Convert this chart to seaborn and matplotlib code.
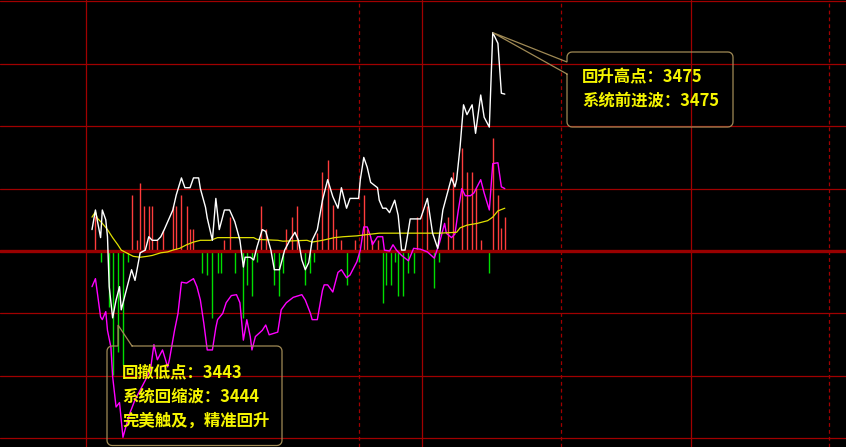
import numpy as np
import matplotlib
matplotlib.use("Agg")
import matplotlib.pyplot as plt
import seaborn as sns

# minute of the session (0..240) and values
white_min = [0, 2, 3, 5, 6, 8, 9, 10, 12, 14,
             16, 17, 21, 23, 25, 28, 31, 33, 35, 38,
             40, 42, 47, 49, 52, 54, 57, 59, 62, 63,
             66, 67, 70, 72, 74, 77, 80, 83, 86, 88,
             89, 92, 94, 96, 99, 101, 104, 106, 109, 112,
             115, 118, 120, 122, 124, 126, 128, 131, 134, 137,
             140, 143, 145, 148, 150, 155, 156, 158, 160, 162,
             166, 167, 169, 171, 173, 176, 178, 180, 182, 183,
             185, 191, 195, 198, 201, 204, 209, 211, 212, 214,
             216, 218, 221, 223, 226, 228, 231, 233, 236, 238,
             240]
white_price = [3452.9, 3455.1, 3454.0, 3452.0, 3455.1, 3454.0, 3452.1, 3446.5, 3443.0, 3445.0,
               3446.5, 3443.9, 3446.9, 3448.4, 3447.2, 3450.3, 3450.6, 3452.1, 3451.7, 3451.7,
               3452.1, 3452.9, 3455.1, 3456.8, 3458.7, 3457.6, 3457.6, 3458.7, 3458.7, 3457.5,
               3455.4, 3454.2, 3451.7, 3456.4, 3452.9, 3455.1, 3455.1, 3453.8, 3451.7, 3448.7,
               3449.8, 3449.8, 3449.5, 3451.0, 3452.9, 3452.7, 3450.6, 3448.4, 3448.4, 3450.6,
               3451.7, 3452.6, 3451.7, 3449.5, 3448.4, 3449.2, 3451.7, 3452.9, 3456.2, 3458.5,
               3456.6, 3455.3, 3457.6, 3455.3, 3456.4, 3456.4, 3458.5, 3461.0, 3459.9, 3458.2,
               3457.6, 3456.2, 3455.3, 3455.3, 3454.8, 3456.2, 3454.5, 3450.6, 3450.6, 3451.7,
               3454.1, 3454.1, 3456.4, 3452.5, 3450.8, 3455.1, 3458.7, 3457.7, 3458.5, 3462.2,
               3466.9, 3465.8, 3466.9, 3463.7, 3468.0, 3465.5, 3464.4, 3475.0, 3473.8, 3468.2,
               3468.1]

avg_min = [0, 2, 3, 6, 9, 12, 15, 17, 20, 24,
           28, 32, 35, 40, 44, 47, 51, 55, 59, 63,
           69, 73, 94, 96, 108, 111, 125, 128, 134, 141,
           146, 154, 158, 167, 202, 212, 214, 218, 224, 230,
           233, 236, 240]
avg_price = [3454.3, 3454.9, 3454.2, 3453.6, 3452.9, 3452.0, 3451.2, 3450.6, 3450.3, 3449.9,
             3449.8, 3449.9, 3450.0, 3450.3, 3450.4, 3450.6, 3450.8, 3451.2, 3451.5, 3451.7,
             3451.7, 3452.0, 3452.0, 3451.8, 3451.7, 3451.6, 3451.7, 3451.5, 3451.7, 3452.0,
             3452.1, 3452.2, 3452.3, 3452.5, 3452.5, 3452.6, 3453.1, 3453.4, 3453.6, 3453.9,
             3454.3, 3455.0, 3455.3]

wave_min = [0, 2, 5, 6, 8, 9, 11, 12, 14, 16,
            18, 20, 22, 25, 28, 31, 34, 36, 38, 41,
            44, 45, 48, 50, 52, 55, 59, 61, 63, 65,
            67, 70, 72, 73, 76, 78, 81, 84, 86, 88,
            89, 90, 92, 93, 95, 99, 101, 103, 108, 110,
            113, 117, 122, 124, 127, 128, 131, 134, 135, 137,
            140, 143, 145, 148, 150, 154, 156, 158, 160, 162,
            163, 166, 169, 170, 173, 175, 177, 180, 184, 187,
            191, 195, 199, 202, 205, 206, 209, 211, 213, 215,
            217, 220, 222, 226, 228, 231, 233, 236, 238, 240]
wave_val = [3446.5, 3447.4, 3443.1, 3442.8, 3443.7, 3441.6, 3439.7, 3436.4, 3433.0, 3433.5,
            3429.6, 3431.0, 3432.3, 3433.8, 3434.9, 3436.0, 3437.2, 3440.0, 3438.3, 3439.4,
            3437.5, 3438.3, 3441.6, 3443.5, 3447.0, 3446.9, 3447.4, 3446.5, 3445.0, 3442.4,
            3439.4, 3439.4, 3441.9, 3442.8, 3443.5, 3444.7, 3445.5, 3445.6, 3444.7, 3440.5,
            3441.6, 3442.8, 3440.9, 3439.4, 3440.9, 3441.6, 3442.2, 3441.1, 3441.4, 3443.9,
            3444.7, 3445.3, 3445.6, 3445.0, 3443.5, 3442.8, 3442.8, 3446.1, 3446.7, 3446.7,
            3445.9, 3448.1, 3448.4, 3447.5, 3447.8, 3449.3, 3450.6, 3453.2, 3453.2, 3452.1,
            3451.2, 3452.1, 3452.1, 3450.6, 3450.5, 3451.2, 3450.6, 3450.0, 3449.4, 3450.8,
            3450.7, 3450.4, 3449.7, 3451.4, 3453.6, 3452.5, 3452.0, 3452.4, 3455.1, 3457.5,
            3456.7, 3456.7, 3457.0, 3458.5, 3457.0, 3455.1, 3460.3, 3460.4, 3457.7, 3457.5]

up_min = [2, 23, 26, 28, 30, 33, 35, 38, 41, 47,
          49, 52, 55, 57, 59, 77, 80, 98, 101, 113,
          116, 119, 131, 134, 137, 140, 142, 145, 153, 158,
          160, 163, 166, 189, 195, 207, 210, 215, 218, 221,
          223, 226, 233, 236, 238, 240]
up_val = [3.9, 6.3, 1.2, 7.6, 5.0, 5.0, 5.0, 1.2, 2.4, 5.0,
          5.0, 6.3, 5.0, 2.5, 2.5, 1.2, 3.8, 5.0, 2.5, 2.5,
          3.8, 5.0, 2.0, 8.9, 10.2, 5.2, 2.5, 1.2, 1.2, 6.3,
          2.5, 1.2, 1.2, 3.8, 5.0, 3.8, 8.9, 11.6, 8.9, 8.9,
          7.1, 1.2, 12.7, 6.3, 2.6, 3.8]

down_min = [5, 10, 12, 15, 18, 21, 64, 67, 70, 73,
            75, 83, 88, 90, 93, 96, 106, 109, 111, 124,
            127, 129, 148, 155, 169, 171, 174, 176, 178, 181,
            184, 187, 199, 202, 231]
down_val = [-1.2, -6.3, -13.9, -11.3, -12.8, -1.2, -2.5, -2.7, -7.5, -2.5,
            -2.5, -2.5, -7.5, -3.8, -5.0, -1.2, -3.8, -5.0, -2.5, -3.8,
            -2.5, -1.2, -3.8, -1.2, -5.8, -3.8, -3.8, -1.2, -5.0, -5.0,
            -2.5, -2.5, -4.2, -1.2, -2.5]

high_text = ["回升高点：3475", "系统前进波：3475"]
low_text = ["回撤低点：3443", "系统回缩波：3444", "完美触及，精准回升"]

BASE = 3450.5      # previous close
STEP = 7.0         # grid step in points

W, H = 846, 447
X0_PX, PX_PER_MIN = 92, 1.72
BASE_PX, PX_PER_PT = 251, 62.4 / 7

GRID = "#a00000"
BOX = "#a08a55"
TXT = "#f5f500"

sns.set_theme(style="dark", rc={"axes.facecolor": "black", "figure.facecolor": "black"})
plt.rcParams["font.family"] = ["Noto Sans CJK SC", "DejaVu Sans"]

fig = plt.figure(figsize=(W / 100, H / 100), dpi=100)
ax = fig.add_axes([0, 0, 1, 1])
ax.set_xlim((0 - X0_PX) / PX_PER_MIN, (W - X0_PX) / PX_PER_MIN)
ax.set_ylim(BASE - (H - BASE_PX) / PX_PER_PT, BASE + BASE_PX / PX_PER_PT)
ax.set_xticks([])
ax.set_yticks([])
ax.grid(False)
for s in ax.spines.values():
    s.set_visible(False)

# grid
for k in [-3, -2, -1, 1, 2, 3, 4]:
    ax.axhline(BASE + k * STEP, color=GRID, lw=0.9, zorder=1)
for xm in [-3.5, 191.9, 348.3]:
    ax.axvline(xm, color=GRID, lw=0.9, zorder=1)
for xm in [155.2, 272.7, 428.5]:
    ax.axvline(xm, color=GRID, lw=0.9, ls=(0, (3, 2.5)), zorder=1)

# bars around the previous close
ax.vlines(up_min, BASE, BASE + np.array(up_val), colors="#ff3c3c", lw=1.0, zorder=2)
ax.vlines(down_min, BASE, BASE + np.array(down_val), colors="#00dd00", lw=1.0, zorder=2)
ax.axhline(BASE, color="#990000", lw=2.4, zorder=3)

sns.lineplot(x=wave_min, y=wave_val, color="#ff00ff", lw=1.0, ax=ax, zorder=4)
sns.lineplot(x=avg_min, y=avg_price, color="#e0e000", lw=0.9, ax=ax, zorder=4)
sns.lineplot(x=white_min, y=white_price, color="white", lw=1.0, ax=ax, zorder=5)


def to_ax(px, py):
    return px / W, 1 - py / H


def arc(cx, cy, r, a0, a1):
    t = np.radians(np.linspace(a0, a1, 6))
    return [(cx + r * np.cos(t_), cy - r * np.sin(t_)) for t_ in t]


def callout(x0, y0, x1, y1, tip, gap, side, r=5):
    # outline in pixel coords (y down), open where the pointer leaves
    if side == "left":
        pts = [(x0, gap[1]), (x0, y1 - r)]
        pts += arc(x0 + r, y1 - r, r, 180, 270)
        pts += [(x1 - r, y1)] + arc(x1 - r, y1 - r, r, 270, 360)
        pts += [(x1, y0 + r)] + arc(x1 - r, y0 + r, r, 0, 90)
        pts += [(x0 + r, y0)] + arc(x0 + r, y0 + r, r, 90, 180)
        pts += [(x0, gap[0]), tip, (x0, gap[1])]
    else:
        pts = [(gap[1], y0), (x1 - r, y0)]
        pts += arc(x1 - r, y0 + r, r, 90, 0)
        pts += [(x1, y1 - r)] + arc(x1 - r, y1 - r, r, 0, -90)
        pts += [(x0 + r, y1)] + arc(x0 + r, y1 - r, r, 270, 180)
        pts += [(x0, y0 + r)] + arc(x0 + r, y0 + r, r, 180, 90)
        pts += [(gap[0], y0), tip, (gap[1], y0)]
    xy = np.array([to_ax(*p) for p in pts])
    ax.plot(xy[:, 0], xy[:, 1], color=BOX, lw=0.9, transform=ax.transAxes, zorder=6,
            solid_joinstyle="miter")


# pointer to the session high
peak = ax.transData.transform((white_min[white_price.index(max(white_price))], max(white_price)))
peak = ax.transAxes.inverted().transform(peak)
peak_px = (peak[0] * W, (1 - peak[1]) * H)
callout(567, 52, 733, 127, peak_px, (62, 74), "left")
callout(107, 346, 282, 445.5, (118, 325), (118, 132), "top")

for i, t in enumerate(high_text):
    ax.text(*to_ax(582, 77 + 24 * i), t, color=TXT, fontsize=11.8, fontweight="bold",
            va="center", ha="left", transform=ax.transAxes, zorder=7)
for i, t in enumerate(low_text):
    ax.text(*to_ax(122, 372 + 24.5 * i), t, color=TXT, fontsize=11.8, fontweight="bold",
            va="center", ha="left", transform=ax.transAxes, zorder=7)

fig.savefig("out.png", dpi=100, facecolor="black")
plt.close(fig)
